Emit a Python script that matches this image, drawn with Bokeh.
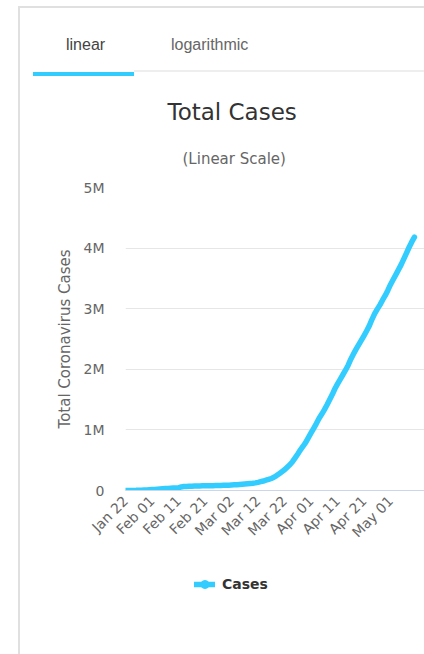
from bokeh.plotting import figure
from bokeh.models import (Range1d, FixedTicker, Title, Legend, LegendItem, ColumnDataSource, Div)
from bokeh.layouts import column
from bokeh.embed import file_html
from bokeh.resources import INLINE
import math

# ---- data (world total cases, Jan 22 .. May 10) ----
total_cases = [
    580, 845, 1317, 2015, 2800, 4581, 6058, 7813, 9823, 11950,
    14553, 17391, 20630, 24545, 28266, 31439, 34876, 37552, 40553, 43099,
    45134, 59287, 64438, 67100, 69197, 71329, 73332, 75184, 75700, 76677,
    77673, 78651, 79205, 80087, 80828, 81820, 83112, 84615, 86604, 88585,
    90443, 93016, 95314, 98425, 102050, 106099, 109991, 114381, 118948, 126214,
    134509, 145416, 156475, 169517, 182490, 198238, 218822, 246525, 277126, 308594,
    341335, 383144, 424395, 475707, 538666, 603066, 670723, 730300, 792979, 872209,
    949465, 1025000, 1104000, 1188000, 1257000, 1330000, 1411000, 1498000, 1583000, 1679000,
    1760000, 1835000, 1910000, 1985000, 2068000, 2166000, 2251000, 2332000, 2407000, 2481000,
    2557000, 2637000, 2721000, 2825000, 2918000, 2993000, 3064000, 3144000, 3219000, 3306000,
    3400000, 3483000, 3563000, 3644000, 3727000, 3822000, 3918000, 4014000, 4102000, 4180000,
]
x_tick_days = [0, 10, 20, 30, 40, 50, 60, 70, 80, 90, 100]
x_tick_labels = ["Jan 22", "Feb 01", "Feb 11", "Feb 21", "Mar 02", "Mar 12",
                 "Mar 22", "Apr 01", "Apr 11", "Apr 21", "May 01"]
y_ticks = [0, 1000000, 2000000, 3000000, 4000000, 5000000]
y_tick_labels = ["0", "1M", "2M", "3M", "4M", "5M"]
series_name = "Cases"
chart_title = "Total Cases"
chart_subtitle = "(Linear Scale)"
y_axis_title = "Total Coronavirus Cases"
tab_labels = ["linear", "logarithmic"]

LINE = "#33ccff"
BORDER = "#e0e0e0"
FONT = "DejaVu Sans"

# ---- tab header (text only; lines are drawn by the container background) ----
header = Div(width=424, height=80, margin=0, text=(
    f'<div style="position:relative;width:424px;height:80px;font-family:\'Liberation Sans\';'
    f'font-size:16px;line-height:1;">'
    f'<span style="position:absolute;left:66px;top:37px;color:#444444;">{tab_labels[0]}</span>'
    f'<span style="position:absolute;left:171px;top:37px;color:#666666;">{tab_labels[1]}</span>'
    f'</div>'))

# ---- main chart ----
days = list(range(len(total_cases)))
src = ColumnDataSource(dict(day=days, cases=total_cases))

p = figure(width=424, height=474, output_backend="svg", toolbar_location=None,
           title=None, x_range=Range1d(0, 112.8), y_range=Range1d(0, 5000000),
           min_border_left=125, min_border_right=0, min_border_top=107, min_border_bottom=64)
p.outline_line_color = None
p.border_fill_color = None
p.background_fill_color = None
p.margin = 0

p.add_layout(Title(text=chart_subtitle, align="left", offset=57, standoff=40,
                   text_font=FONT, text_font_size="15px", text_font_style="normal",
                   text_color="#666666"), "above")
p.add_layout(Title(text=chart_title, align="left", offset=42, standoff=6,
                   text_font=FONT, text_font_size="23px", text_font_style="normal",
                   text_color="#333333"), "above")

p.xaxis.ticker = FixedTicker(ticks=x_tick_days)
p.xaxis.major_label_overrides = {d: l for d, l in zip(x_tick_days, x_tick_labels)}
p.xaxis.major_label_orientation = math.pi / 4
p.xaxis.axis_line_color = "#ccd6eb"
p.xaxis.major_tick_line_color = None
p.xaxis.minor_tick_line_color = None
p.xaxis.major_tick_out = 0
p.xaxis.major_label_standoff = 8
p.xaxis.major_label_text_font = FONT
p.xaxis.major_label_text_font_size = "14px"
p.xaxis.major_label_text_color = "#666666"

p.yaxis.ticker = FixedTicker(ticks=y_ticks)
p.yaxis.major_label_overrides = {t: l for t, l in zip(y_ticks, y_tick_labels)}
p.yaxis.axis_line_color = None
p.yaxis.major_tick_line_color = None
p.yaxis.minor_tick_line_color = None
p.yaxis.major_tick_out = 0
p.yaxis.major_label_standoff = 21
p.yaxis.major_label_text_font = FONT
p.yaxis.major_label_text_font_size = "14px"
p.yaxis.major_label_text_color = "#666666"
p.yaxis.axis_label = y_axis_title
p.yaxis.axis_label_standoff = 7
p.yaxis.axis_label_text_font = FONT
p.yaxis.axis_label_text_font_style = "normal"
p.yaxis.axis_label_text_font_size = "15px"
p.yaxis.axis_label_text_color = "#666666"

p.xgrid.grid_line_color = None
p.ygrid.grid_line_color = "#e6e6e6"
p.ygrid.ticker = FixedTicker(ticks=y_ticks)

line = p.line("day", "cases", source=src, line_color=LINE, line_width=5.5,
              line_cap="round", line_join="round")

# ---- legend strip (same series and style; the series itself lies outside this strip's view) ----
lg = figure(width=424, height=100, output_backend="svg", toolbar_location=None,
            title=None, x_range=Range1d(0, 1), y_range=Range1d(-1, 0),
            min_border_left=125, min_border_right=0, min_border_top=0, min_border_bottom=0)
lg.axis.visible = False
lg.grid.visible = False
lg.outline_line_color = None
lg.border_fill_color = None
lg.background_fill_color = None
lg.margin = 0
key_line = lg.line("day", "cases", source=src, line_color=LINE, line_width=5.5, line_cap="round")
key_dot = lg.scatter("day", "cases", source=src, size=10, fill_color=LINE, line_color=LINE)
legend = Legend(items=[LegendItem(label=series_name, renderers=[key_line, key_dot])],
                location=(69, 60), orientation="horizontal",
                border_line_color=None, background_fill_alpha=0,
                padding=0, margin=0, glyph_width=21, glyph_height=20,
                label_standoff=7, label_text_font=FONT, label_text_font_style="bold",
                label_text_font_size="14px", label_text_color="#333333")
lg.add_layout(legend)

# page frame, tab separator and active-tab underline as container background layers
bg = ", ".join([
    f"linear-gradient({BORDER},{BORDER}) 18px 6px / 2px 648px no-repeat",
    f"linear-gradient({BORDER},{BORDER}) 18px 6px / 406px 2px no-repeat",
    "linear-gradient(#eeeeee,#eeeeee) 134px 70px / 290px 2px no-repeat",
    f"linear-gradient({LINE},{LINE}) 33px 72px / 101px 4px no-repeat",
    "#ffffff",
])
layout = column(header, p, lg, spacing=0, margin=0, width=424, height=654,
                styles={"background": bg})
open("out.html", "w").write(file_html(layout, INLINE))
